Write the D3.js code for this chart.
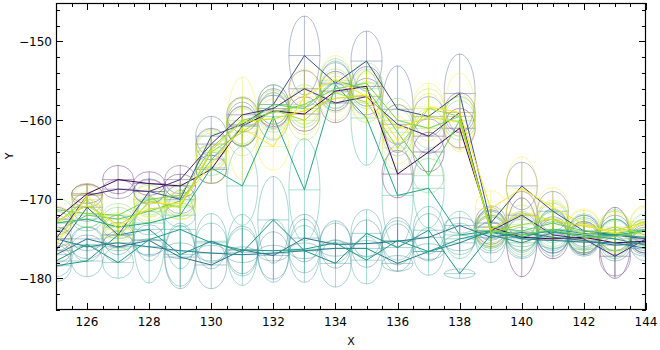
<!DOCTYPE html>
<html><head><meta charset="utf-8">
<script src="https://cdn.jsdelivr.net/npm/d3@7"></script>
<style>body{margin:0;background:#fff}svg{display:block}text{font-family:"DejaVu Sans",sans-serif;}</style>
</head><body><svg id="c" width="660" height="350"></svg>
<script>
const xValues = [125,126,127,128,129,130,131,132,133,134,135,136,137,138,139,140,141,142,143,144];
const xTicks = [126,128,130,132,134,136,138,140,142,144];
const yTicks = [-150,-160,-170,-180];
const seriesNames = ["s0","s1","s2","s3","s4","s5","s6","s7","s8","s9","s10","s11","s12"];
const seriesColors = ["#440154","#472c7a","#3b528b","#2c728e","#26828e","#21918c","#1f9e89","#22a884","#5ec962","#7ad151","#a0da39","#d2e21b","#fde725"];
const seriesXErr = [0.5,0.5,0.5,0.5,0.5,0.5,0.5,0.5,0.5,0.5,0.5,0.5,0.5];
const s0 = [-172.5,-169.3,-167.5,-168,-168.3,-166.2,-160.7,-158.8,-159.2,-156.3,-155.7,-166.8,-164,-161,-173.5,-174.8,-175,-174.8,-175.5,-175.3];
const s1 = [-175,-169.5,-168.7,-169,-167.5,-163,-159.3,-158.5,-156,-157.8,-157,-160.5,-162,-159,-174,-172,-174.5,-175,-177.2,-175];
const s2 = [-176.5,-171,-174.5,-169,-170,-162,-160.5,-158,-151.8,-155.3,-152.5,-158.6,-159.5,-156.6,-173,-168.3,-171.5,-174,-174.5,-175];
const s3 = [-177,-175,-176,-175.2,-177.3,-178.3,-176.4,-177.1,-174.9,-175.7,-175.6,-175.3,-174.8,-173.3,-174.8,-174.2,-174.8,-175.2,-175.8,-175.5];
const s4 = [-175,-176,-175.5,-176,-176.5,-176.8,-177,-176.8,-176.5,-176.2,-176.2,-178.1,-176.6,-175.5,-174,-175,-175.2,-175.4,-175.5,-176.2];
const s5 = [-178.4,-177.8,-174.5,-173.8,-177,-175.3,-176.7,-172.6,-176.5,-178.1,-174.3,-176.1,-173.9,-179.4,-174.5,-175.5,-174.2,-174.5,-175,-175.8];
const s6 = [-177.8,-175.7,-178,-175.1,-173.8,-175.5,-176.4,-176.5,-176.3,-175.5,-177.7,-175.2,-176.6,-175,-174.2,-174.8,-173.8,-174.3,-174.5,-174.8];
const s7 = [-173,-172.5,-173.5,-173,-172,-166,-168.3,-159.5,-168.8,-155.5,-159.7,-169.5,-168.6,-174.5,-174,-174.5,-174,-174.8,-174.5,-174];
const s8 = [-174,-172,-172.5,-171.5,-170.2,-165,-160.8,-158,-158.5,-155,-156,-161.5,-167,-160,-173.5,-174,-173,-174,-174.3,-173.8];
const s9 = [-171.3,-171.8,-172,-170,-169.5,-163.5,-160,-159,-158,-156,-155.3,-160,-161,-159.5,-174,-174.5,-173.8,-174.8,-174.7,-174];
const s10 = [-173,-170,-174.8,-170.2,-171,-164,-161.5,-158.7,-160,-156.5,-157.7,-163.5,-158.5,-159.5,-174.2,-173.2,-172.5,-174.5,-173.5,-174.5];
const s11 = [-172.8,-170.8,-173.2,-171.2,-170.8,-163.8,-160.2,-159.8,-158.8,-157.2,-156.8,-161,-159.6,-160.2,-173.8,-171.8,-172.6,-173.4,-174,-172.8];
const s12 = [-175.8,-169.5,-173.8,-170.5,-170.5,-165.5,-161,-163.3,-157,-154.8,-157,-162.5,-158.3,-159,-171.2,-168.6,-171,-173.2,-174.3,-173];
const e0 = [1.5,1.2,1.8,1.5,1.5,1.8,2.5,2,2.2,2.5,2.5,3,2.5,2.5,2.2,5,2.5,2,4.5,1.5];
const e1 = [1.5,1.5,1.2,1.5,1.8,2,2.2,2.5,2.3,2.5,2.3,2.5,2.2,2.5,2,3,2.3,2,2.5,1.5];
const e2 = [1.5,1.8,1.6,1.6,1.8,2.5,2.8,2.5,5,2.6,3.8,5.5,2.5,5,2.2,3,2.5,2,2.5,1.8];
const e3 = [1.5,1.5,2,2,4,3,3,3,3,3,3,3,3,1,2,2.5,2,2,2,1.5];
const e4 = [1,1.5,1,1,1,1,1,1,1,1,1,1,1,1,1,1,1,1,1,1];
const e5 = [2,2,2.5,4,4,3.5,3,5.5,4,3,3,3,3,0.6,3.5,2,3,2.5,2.5,2];
const e6 = [2,2.2,2,5.5,5,2.5,4.5,4,3,2.5,3,2.5,3,2,2,2.5,2.5,2,2,2];
const e7 = [1.5,1.5,1.5,1.5,1.5,2,5,3,6.5,3,6,6.5,5,3,2.5,2,2.5,2,2,1.5];
const e8 = [2,1.5,1.5,1.5,2,2,2.5,2.5,2.4,2.8,2.5,3,2.2,2.5,2,2.5,2.5,2.2,3,2];
const e9 = [1.5,1.8,1.5,2,1.5,2.4,3,2.5,2.5,2.5,2.6,2.8,2.5,2.5,2,2.5,2.2,2,2,1.5];
const e10 = [1.5,1.8,1.5,2,1.5,2.4,3,2.5,2.5,2.5,2.6,2.8,2.5,2.5,2,2.5,2.2,2,2,1.5];
const e11 = [2,1.8,1.5,1.5,1.8,2.5,3,2.5,3,2.8,2.8,3,3,3.5,2,3,2.5,2,2.5,2];
const e12 = [1.8,1.5,1.5,1.8,1.5,2.5,6.5,3,3.5,3,3.2,3,3,5,2.3,4,2.5,2,2.5,2];
const seriesY = [s0,s1,s2,s3,s4,s5,s6,s7,s8,s9,s10,s11,s12];
const seriesErr = [e0,e1,e2,e3,e4,e5,e6,e7,e8,e9,e10,e11,e12];

const L=56,R=646,T=3,B=310;
const svg=d3.select("#c");
const x=d3.scaleLinear().domain([125,144]).range([L,R]);
const y=d3.scaleLinear().domain([-184.0,-145.15]).range([B,T]);
svg.append("defs").append("clipPath").attr("id","clip").append("rect").attr("x",L).attr("y",T).attr("width",R-L).attr("height",B-T);
const g=svg.append("g").attr("clip-path","url(#clip)");
function ell(cx,cy,rx,ry){return `M${cx+rx},${cy}A${rx},${ry} 0 0 1 ${cx},${cy+ry}A${rx},${ry} 0 0 1 ${cx-rx},${cy}A${rx},${ry} 0 0 1 ${cx},${cy-ry}A${rx},${ry} 0 0 1 ${cx+rx},${cy}Z`;}
seriesY.forEach((ys,si)=>{
  const col=seriesColors[si], es=seriesErr[si], xe=seriesXErr[si];
  const gg=g.append("g").attr("fill","none").attr("stroke",col).attr("stroke-opacity",0.38).attr("stroke-width",1);
  ys.forEach((v,i)=>{
    const cx=x(xValues[i]),cy=y(v),rx=x(xValues[i]+xe)-cx,ry=y(v-es[i])-cy;
    gg.append("path").attr("d",ell(cx,cy,rx,ry));
    gg.append("line").attr("x1",cx-rx).attr("x2",cx+rx).attr("y1",cy).attr("y2",cy);
    gg.append("line").attr("x1",cx).attr("x2",cx).attr("y1",cy-ry).attr("y2",cy+ry);
  });
});
const line=d3.line().x((d,i)=>x(xValues[i])).y(d=>y(d));
seriesY.forEach((ys,si)=>{
  g.append("path").attr("d",line(ys)).attr("fill","none").attr("stroke",seriesColors[si]).attr("stroke-width",1);
});
// frame
svg.append("rect").attr("x",L+0.5).attr("y",T+0.5).attr("width",R-L-1).attr("height",B-T-1).attr("fill","none").attr("stroke","#000").attr("stroke-width",1.2);
const ax=svg.append("g").attr("stroke","#000").attr("stroke-width",1);
d3.range(125,144.01,0.5).forEach(v=>{
  const major=xTicks.includes(v); const len=major?7:4; const px=Math.round(x(v))+0.5;
  ax.append("line").attr("x1",px).attr("x2",px).attr("y1",B).attr("y2",B-len);
  ax.append("line").attr("x1",px).attr("x2",px).attr("y1",T).attr("y2",T+len);
});
d3.range(-184,-145,2).forEach(v=>{
  const major=yTicks.includes(v); const len=major?7:4; const py=Math.round(y(v))+0.5;
  ax.append("line").attr("x1",L).attr("x2",L+len).attr("y1",py).attr("y2",py);
  ax.append("line").attr("x1",R).attr("x2",R-len).attr("y1",py).attr("y2",py);
});
xTicks.forEach(v=>svg.append("text").attr("x",x(v)).attr("y",326).attr("text-anchor","middle").attr("font-size",12).attr("fill","#000").text(d3.format("d")(v)));
yTicks.forEach(v=>svg.append("text").attr("x",52).attr("y",y(v)+4.5).attr("text-anchor","end").attr("font-size",12).attr("fill","#000").text("\u2212"+Math.abs(v)));
svg.append("text").attr("x",351).attr("y",345).attr("text-anchor","middle").attr("font-size",11).text("X");
svg.append("text").attr("transform","translate(13,156) rotate(-90)").attr("text-anchor","middle").attr("font-size",11).text("Y");
</script></body></html>
